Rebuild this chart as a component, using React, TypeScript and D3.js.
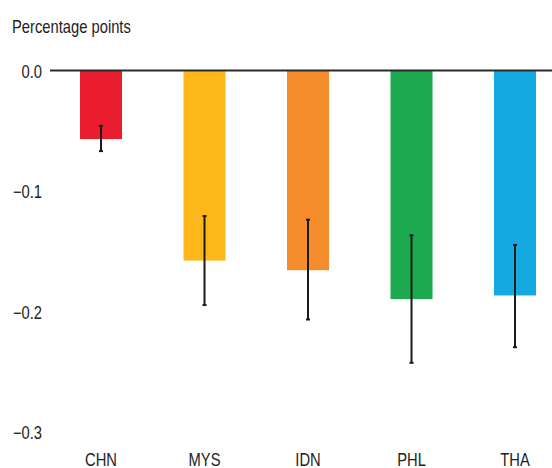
import React from "react";
import * as d3 from "d3";

// Economies on the horizontal axis
const categories = ["CHN", "MYS", "IDN", "PHL", "THA"];
// Point estimates (percentage points)
const estimates = [-0.057, -0.158, -0.166, -0.190, -0.187];
// Confidence band bounds
const upperBounds = [-0.046, -0.121, -0.124, -0.137, -0.145];
const lowerBounds = [-0.067, -0.195, -0.207, -0.243, -0.230];
// Bar fills per economy
const barColors = ["#EA1D2F", "#FDB71A", "#F68D2D", "#1CA94F", "#14AADF"];
// Vertical axis ticks
const yTicks = [0, -0.1, -0.2, -0.3];
const yTickLabels = ["0.0", "\u22120.1", "\u22120.2", "\u22120.3"];
const unitLabel = "Percentage points";

const W = 552;
const H = 468;
const FONT = "'Liberation Sans', Arial, sans-serif";
const FS = 18;
const NARROW = 0.82;

// Condensed text: regular sans squeezed horizontally
function NarrowText(props: {
  x: number;
  y: number;
  anchor?: "start" | "middle" | "end";
  children: React.ReactNode;
}) {
  return (
    <text
      transform={`translate(${props.x},${props.y}) scale(${NARROW},1)`}
      textAnchor={props.anchor ?? "start"}
      fontSize={FS}
      fill="#222"
    >
      {props.children}
    </text>
  );
}

export default function App() {
  const y = d3.scaleLinear().domain([0, -0.3]).range([70.5, 431.4]);
  const x = d3
    .scaleBand<string>()
    .domain(categories)
    .range([48.95, 567.07])
    .paddingInner(0.594)
    .paddingOuter(0.3);
  const bw = x.bandwidth();

  return (
    <svg
      width={W}
      height={H}
      style={{ position: "fixed", left: 0, top: 0, background: "#fff" }}
      fontFamily={FONT}
    >
      <NarrowText x={12} y={32.5}>
        {unitLabel}
      </NarrowText>

      {yTicks.map((t, i) => (
        <NarrowText key={t} x={42} y={y(t) + 7.5} anchor="end">
          {yTickLabels[i]}
        </NarrowText>
      ))}

      {categories.map((c, i) => (
        <rect
          key={c}
          x={x(c)}
          y={y(0)}
          width={bw}
          height={y(estimates[i]) - y(0)}
          fill={barColors[i]}
        />
      ))}

      <line x1={50} x2={W} y1={y(0)} y2={y(0)} stroke="#2a2a2a" strokeWidth={2} />

      {categories.map((c, i) => {
        const cx = (x(c) as number) + bw / 2;
        return (
          <g key={c} stroke="#1a1a1a">
            <line x1={cx} x2={cx} y1={y(upperBounds[i])} y2={y(lowerBounds[i])} strokeWidth={2} />
            <line x1={cx - 2} x2={cx + 2} y1={y(upperBounds[i])} y2={y(upperBounds[i])} strokeWidth={2} />
            <line x1={cx - 2} x2={cx + 2} y1={y(lowerBounds[i])} y2={y(lowerBounds[i])} strokeWidth={2} />
          </g>
        );
      })}

      {categories.map((c) => (
        <NarrowText key={c} x={(x(c) as number) + bw / 2} y={465.5} anchor="middle">
          {c}
        </NarrowText>
      ))}
    </svg>
  );
}
